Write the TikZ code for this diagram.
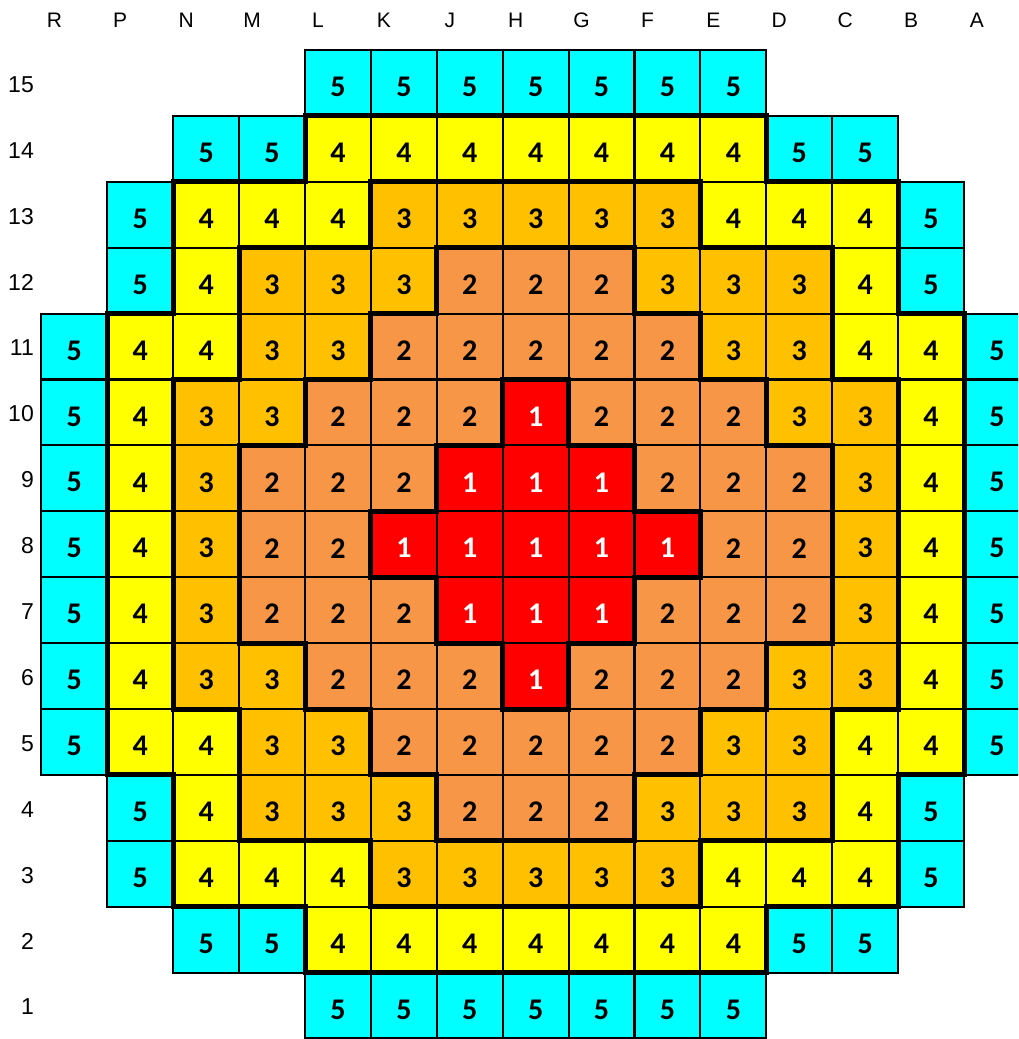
\documentclass[tikz,border=0pt]{standalone}
\usepackage{fontspec}
\setmainfont{Carlito}
\newfontfamily\labfont{Liberation Sans}
\definecolor{val5}{HTML}{00FFFF}
\definecolor{val4}{HTML}{FFFF00}
\definecolor{val3}{HTML}{FFC000}
\definecolor{val2}{HTML}{F79646}
\definecolor{val1}{HTML}{FF0000}
\colorlet{txt1}{white}
\colorlet{txt2}{black}
\colorlet{txt3}{black}
\colorlet{txt4}{black}
\colorlet{txt5}{black}
\def\G{{%
0,0,0,0,5,5,5,5,5,5,5,0,0,0,0,%
0,0,5,5,4,4,4,4,4,4,4,5,5,0,0,%
0,5,4,4,4,3,3,3,3,3,4,4,4,5,0,%
0,5,4,3,3,3,2,2,2,3,3,3,4,5,0,%
5,4,4,3,3,2,2,2,2,2,3,3,4,4,5,%
5,4,3,3,2,2,2,1,2,2,2,3,3,4,5,%
5,4,3,2,2,2,1,1,1,2,2,2,3,4,5,%
5,4,3,2,2,1,1,1,1,1,2,2,3,4,5,%
5,4,3,2,2,2,1,1,1,2,2,2,3,4,5,%
5,4,3,3,2,2,2,1,2,2,2,3,3,4,5,%
5,4,4,3,3,2,2,2,2,2,3,3,4,4,5,%
0,5,4,3,3,3,2,2,2,3,3,3,4,5,0,%
0,5,4,4,4,3,3,3,3,3,4,4,4,5,0,%
0,0,5,5,4,4,4,4,4,4,4,5,5,0,0,%
0,0,0,0,5,5,5,5,5,5,5,0,0,0,0}}
\def\XO{41.4}
\def\YO{50}
\def\CW{65.9}
\begin{document}
\begin{tikzpicture}[x=1pt,y=-1pt,
  cellbox/.style={draw=black,line width=2.1pt},
  valtext/.style={font=\bfseries\fontsize{30}{30}\selectfont,inner sep=0pt},
  collab/.style={font=\labfont\fontsize{21}{21}\selectfont,inner sep=0pt},
  rowlab/.style={font=\labfont\fontsize{23}{23}\selectfont,anchor=east,inner sep=0pt},
  thickedge/.style={draw=black,line width=5pt,line cap=rect}]
\useasboundingbox (0,0) rectangle (1018,1039);
\clip (0,0) rectangle (1018,1039);
% column labels
\foreach \lab [count=\i from 0] in {R,P,N,M,L,K,J,H,G,F,E,D,C,B,A}{
  \pgfmathsetmacro\xx{\XO+(\i+0.5)*\CW-20}
  \node[collab] (col-\i) at (\xx,20) {\lab};
}
% row labels
\foreach \r in {0,...,14}{
  \pgfmathtruncatemacro\num{15-\r}
  \pgfmathsetmacro\yy{\YO+(\r+0.5)*\CW+1.5}
  \node[rowlab] (row-\r) at (34,\yy) {\num};
}
% cells
\foreach \r in {0,...,14}{
  \foreach \c in {0,...,14}{
    \pgfmathtruncatemacro\v{\G[\r*15+\c]}
    \ifnum\v>0
      \pgfmathsetmacro\xa{\XO+\c*\CW}
      \pgfmathsetmacro\ya{\YO+\r*\CW}
      \path[cellbox,fill=val\v] (\xa,\ya) rectangle ++(\CW,\CW);
    \fi
  }
}
% thick boundaries between zones
\foreach \r in {0,...,14}{
  \foreach \c in {0,...,14}{
    \pgfmathtruncatemacro\v{\G[\r*15+\c]}
    \ifnum\v>0
      \pgfmathsetmacro\xa{\XO+\c*\CW}
      \pgfmathsetmacro\ya{\YO+\r*\CW}
      \ifnum\c<14
        \pgfmathtruncatemacro\w{\G[\r*15+\c+1]}
        \ifnum\w>0 \ifnum\w=\v\else
          \path[thickedge] (\xa+\CW,\ya) -- ++(0,\CW);
        \fi\fi
      \fi
      \ifnum\r<14
        \pgfmathtruncatemacro\w{\G[(\r+1)*15+\c]}
        \ifnum\w>0 \ifnum\w=\v\else
          \path[thickedge] (\xa,\ya+\CW) -- ++(\CW,0);
        \fi\fi
      \fi
    \fi
  }
}
% cell values
\foreach \r in {0,...,14}{
  \foreach \c in {0,...,14}{
    \pgfmathtruncatemacro\v{\G[\r*15+\c]}
    \ifnum\v>0
      \pgfmathsetmacro\xc{\XO+(\c+0.5)*\CW}
      \pgfmathsetmacro\yc{\YO+(\r+0.5)*\CW+4}
      \node[valtext,text=txt\v] (cell-\r-\c) at (\xc,\yc) {\v};
    \fi
  }
}
\end{tikzpicture}
\end{document}
